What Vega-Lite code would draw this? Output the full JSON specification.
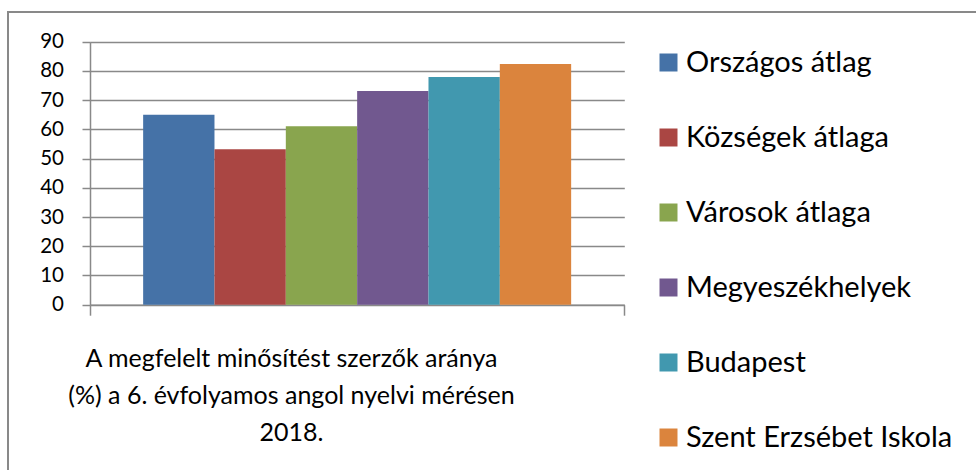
{
  "$schema": "https://vega.github.io/schema/vega-lite/v6.json",
  "width": 975,
  "height": 465,
  "autosize": "none",
  "padding": {"left": 8, "top": 12, "right": 0, "bottom": 0},
  "background": "white",
  "config": {
    "view": {"stroke": "#898989", "strokeWidth": 2},
    "font": "Lato"
  },
  "data": {
    "values": [
      {"group": "2018", "series": "Országos átlag", "value": 65},
      {"group": "2018", "series": "Községek átlaga", "value": 53.2},
      {"group": "2018", "series": "Városok átlaga", "value": 61.1},
      {"group": "2018", "series": "Megyeszékhelyek", "value": 73.1},
      {"group": "2018", "series": "Budapest", "value": 77.9},
      {"group": "2018", "series": "Szent Erzsébet Iskola", "value": 82.4}
    ]
  },
  "mark": {"type": "bar"},
  "encoding": {
    "x": {
      "field": "group",
      "type": "nominal",
      "scale": {"range": [82, 616.3], "paddingInner": 0, "paddingOuter": 0},
      "axis": {
        "orient": "bottom",
        "offset": -172.3,
        "labels": false,
        "ticks": true,
        "tickBand": "extent",
        "tickSize": 10.5,
        "tickColor": "#898989",
        "tickWidth": 1.5,
        "domainColor": "#898989",
        "domainWidth": 1.5,
        "grid": false,
        "title": ["A megfelelt minősítést szerzők aránya", "(%) a 6. évfolyamos angol nyelvi mérésen", "2018."],
        "titleX": 283,
        "titleY": 62,
        "titleBaseline": "alphabetic",
        "titleAlign": "center",
        "titleFont": "Lato",
        "titleFontSize": 25,
        "titleFontWeight": "normal",
        "titleLineHeight": 36.7,
        "titleColor": "black"
      }
    },
    "xOffset": {
      "field": "series",
      "type": "nominal",
      "sort": ["Országos átlag", "Községek átlaga", "Városok átlaga", "Megyeszékhelyek", "Budapest", "Szent Erzsébet Iskola"],
      "scale": {"paddingInner": 0, "paddingOuter": 0.745}
    },
    "y": {
      "field": "value",
      "type": "quantitative",
      "scale": {"domain": [0, 90], "range": [292.7, 29.7], "nice": false, "zero": true},
      "axis": {
        "orient": "left",
        "offset": -82,
        "values": [0, 10, 20, 30, 40, 50, 60, 70, 80, 90],
        "title": null,
        "tickSize": 8,
        "tickColor": "#898989",
        "tickWidth": 1.5,
        "domainColor": "#898989",
        "domainWidth": 1.5,
        "grid": true,
        "gridColor": "#898989",
        "gridWidth": 1.5,
        "labelFont": "Lato",
        "labelFontSize": 20.5,
        "labelColor": "black",
        "labelPadding": 18.5
      }
    },
    "color": {
      "field": "series",
      "type": "nominal",
      "sort": ["Országos átlag", "Községek átlaga", "Városok átlaga", "Megyeszékhelyek", "Budapest", "Szent Erzsébet Iskola"],
      "scale": {
        "domain": ["Országos átlag", "Községek átlaga", "Városok átlaga", "Megyeszékhelyek", "Budapest", "Szent Erzsébet Iskola"],
        "range": ["#4572A7", "#AA4643", "#89A54E", "#71588F", "#4198AF", "#DB843D"]
      },
      "legend": {
        "orient": "none",
        "legendX": 646,
        "legendY": 36,
        "title": null,
        "padding": 0,
        "symbolType": "square",
        "symbolSize": 324,
        "symbolStrokeWidth": 0,
        "symbolOpacity": 1,
        "labelFont": "Lato",
        "labelFontSize": 29,
        "labelColor": "black",
        "labelOffset": 3,
        "labelLimit": 400,
        "rowPadding": 45
      }
    }
  }
}
